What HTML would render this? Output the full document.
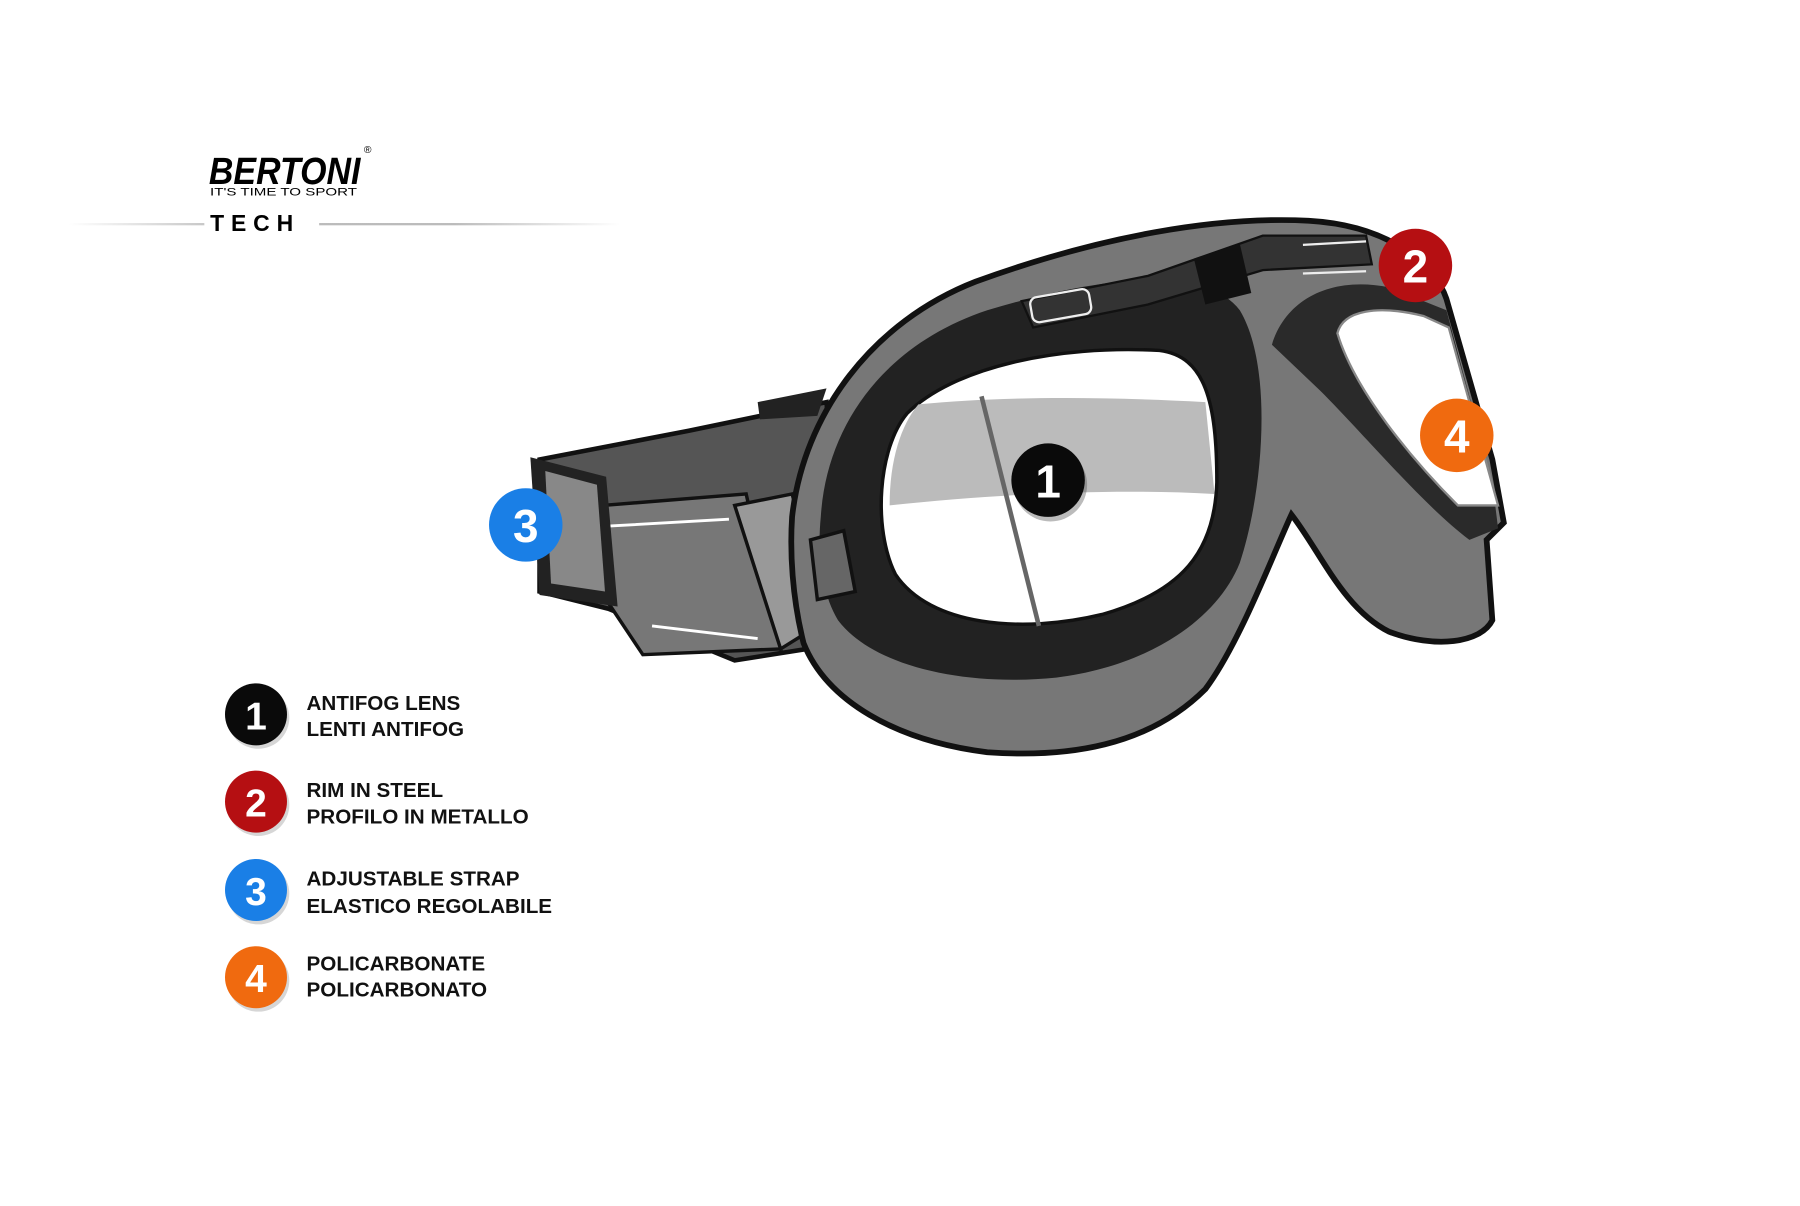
<!DOCTYPE html>
<html><head><meta charset="utf-8"><style>
html,body{margin:0;padding:0;background:#fff;}
svg{display:block}
text{font-family:"Liberation Sans",sans-serif;}
</style></head><body>
<svg width="1800" height="1206" viewBox="0 0 1568 1050" xmlns="http://www.w3.org/2000/svg">
<defs>
<linearGradient id="ln" x1="0" x2="1"><stop offset="0" stop-color="#fff"/><stop offset="0.3" stop-color="#bbb"/><stop offset="0.7" stop-color="#bbb"/><stop offset="1" stop-color="#fff"/></linearGradient>
</defs>
<rect width="1568" height="1050" fill="#fff"/>
<text x="182" y="160" font-size="33" font-weight="bold" font-style="italic" textLength="132" lengthAdjust="spacingAndGlyphs">BERTONI</text>
<text x="317" y="133" font-size="9">®</text>
<text x="183" y="170" font-size="9.5" textLength="128" lengthAdjust="spacingAndGlyphs">IT'S TIME TO SPORT</text>
<rect x="60" y="194" width="480" height="2" fill="url(#ln)"/>
<rect x="178" y="182" width="100" height="24" fill="#fff"/>
<text x="183" y="201" font-size="20" font-weight="bold" letter-spacing="6">TECH</text>

<path d="M470 400 L600 375 L720 350 L735 560 L640 575 L530 530 L470 515 Z" fill="#555" stroke="#111" stroke-width="4"/>
<path d="M525 440 L650 430 L680 565 L560 570 L530 525 Z" fill="#777" stroke="#111" stroke-width="3"/>
<path d="M530 458 L635 452 M568 545 L660 556" stroke="#fff" stroke-width="2.5" fill="none"/>
<path d="M462 398 L528 415 L538 528 L470 518 Z" fill="#222"/>
<path d="M475 410 L520 422 L527 515 L480 508 Z" fill="#888"/>
<path d="M660 350 L720 338 L712 362 L662 365 Z" fill="#222"/>
<path d="M640 440 L690 430 L720 540 L680 565 Z" fill="#999" stroke="#111" stroke-width="3"/>
<path d="M690 450 C700 360 760 280 850 245 C960 205 1060 188 1140 192 C1210 196 1250 230 1260 260 L1300 400 L1310 455 L1295 470 L1300 540 C1290 560 1250 565 1210 550 C1170 530 1150 480 1125 448 C1110 480 1080 560 1050 600 C1000 650 930 660 860 655 C780 645 720 610 700 560 C690 520 688 480 690 450 Z" fill="#777" stroke="#111" stroke-width="5"/>
<path d="M715 450 C720 370 770 300 860 270 C960 240 1050 230 1080 270 C1110 320 1100 430 1080 490 C1060 540 1000 580 920 590 C840 598 760 580 730 540 C715 515 712 480 715 450 Z" fill="#222"/>
<path d="M1108 300 C1120 260 1160 240 1210 250 L1260 270 L1300 420 L1305 460 L1280 470 C1240 440 1190 380 1150 340 Z" fill="#2a2a2a"/>
<path d="M1165 290 C1170 270 1200 265 1240 275 L1262 285 L1305 440 L1270 440 C1230 400 1180 340 1165 290 Z" fill="#fff" stroke="#888" stroke-width="2"/>
<path d="M790 360 C830 320 920 300 1010 305 C1050 310 1060 350 1060 420 C1058 480 1030 515 960 535 C890 552 810 545 780 500 C760 460 765 390 790 360 Z" fill="#fff" stroke="#111" stroke-width="3"/>
<path d="M800 352 C870 345 960 345 1050 350 L1058 430 C970 425 870 430 775 440 C775 400 785 370 800 352 Z" fill="#bbb"/>
<path d="M855 345 L905 545" stroke="#666" stroke-width="4"/>
<path d="M890 262 L1000 240 L1100 205 L1190 205 L1195 230 L1100 235 L1000 265 L900 285 Z" fill="#333" stroke="#111" stroke-width="2"/>
<rect x="898" y="255" width="52" height="22" rx="6" fill="none" stroke="#eee" stroke-width="2" transform="rotate(-10 924 266)"/>
<path d="M1040 225 L1080 212 L1090 255 L1050 265 Z" fill="#111"/>
<path d="M1135 213 L1190 210 M1135 238 L1190 236" stroke="#eee" stroke-width="2"/>
<path d="M706 470 L735 462 L745 515 L712 522 Z" fill="#666" stroke="#111" stroke-width="3"/>

<g font-weight="bold" text-anchor="middle" fill="#fff">
<circle cx="915" cy="422" r="32" fill="#555" opacity=".4"/><circle cx="913" cy="418" r="32" fill="#0a0a0a"/><text x="913" y="433" font-size="40">1</text>
<circle cx="1233" cy="231" r="32" fill="#b50f12"/><text x="1233" y="246" font-size="40">2</text>
<circle cx="458" cy="457" r="32" fill="#1a7fe6"/><text x="458" y="472" font-size="40">3</text>
<circle cx="1269" cy="379" r="32" fill="#f06a0f"/><text x="1269" y="394" font-size="40">4</text>
<circle cx="225" cy="625" r="27" fill="#999" opacity=".4"/><circle cx="223" cy="622" r="27" fill="#0a0a0a"/><text x="223" y="635" font-size="34">1</text>
<circle cx="225" cy="701" r="27" fill="#999" opacity=".4"/><circle cx="223" cy="698" r="27" fill="#b50f12"/><text x="223" y="711" font-size="34">2</text>
<circle cx="225" cy="778" r="27" fill="#999" opacity=".4"/><circle cx="223" cy="775" r="27" fill="#1a7fe6"/><text x="223" y="788" font-size="34">3</text>
<circle cx="225" cy="854" r="27" fill="#999" opacity=".4"/><circle cx="223" cy="851" r="27" fill="#f06a0f"/><text x="223" y="864" font-size="34">4</text>
</g>
<g font-size="18" font-weight="bold" fill="#111">
<text x="267" y="618">ANTIFOG LENS</text><text x="267" y="641">LENTI ANTIFOG</text>
<text x="267" y="694">RIM IN STEEL</text><text x="267" y="717">PROFILO IN METALLO</text>
<text x="267" y="771">ADJUSTABLE STRAP</text><text x="267" y="795">ELASTICO REGOLABILE</text>
<text x="267" y="845">POLICARBONATE</text><text x="267" y="868">POLICARBONATO</text>
</g>
</svg>
</body></html>
